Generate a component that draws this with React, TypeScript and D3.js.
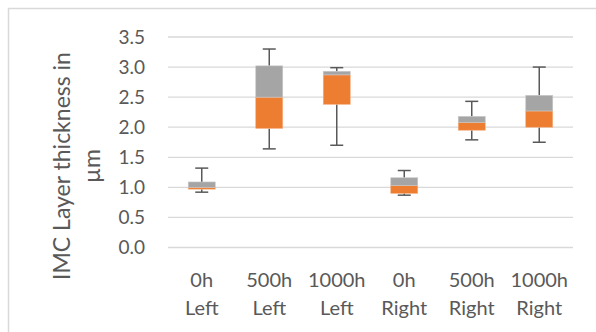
import React from 'react';
import * as d3 from 'd3';

const topLabels = ['0h', '500h', '1000h', '0h', '500h', '1000h'];
const bottomLabels = ['Left', 'Left', 'Left', 'Right', 'Right', 'Right'];
const categories = ['0h Left', '500h Left', '1000h Left', '0h Right', '500h Right', '1000h Right'];

const whiskerMin = [0.92, 1.64, 1.70, 0.87, 1.79, 1.75];
const q1 = [0.97, 1.98, 2.38, 0.90, 1.95, 2.00];
const median = [1.00, 2.50, 2.87, 1.03, 2.08, 2.27];
const q3 = [1.09, 3.02, 2.93, 1.16, 2.18, 2.53];
const whiskerMax = [1.32, 3.30, 2.99, 1.28, 2.43, 3.00];

const yTicks = [0, 0.5, 1, 1.5, 2, 2.5, 3, 3.5];

const W = 596, H = 332;
const FONT = 'Lato, "Open Sans", sans-serif';
const TEXT = '#595959';

export default function App() {
  const x = d3.scaleBand<string>().domain(categories).range([168, 573]).padding(0);
  const y = d3.scaleLinear().domain([0, 3.5]).range([247.5, 37]);
  const bw = x.bandwidth() * 0.4;
  const cap = 13;

  return (
    <svg width={W} height={H} style={{ position: 'absolute', left: 0, top: 0, background: '#fff' }}>
      <rect x={8.5} y={8.5} width={620} height={360} fill="#fff" stroke="#d9d9d9" strokeWidth={1.5} />

      {/* gridlines + tick labels */}
      {yTicks.map((t) => (
        <g key={t}>
          <line x1={168} x2={573} y1={y(t)} y2={y(t)} stroke="#d9d9d9" strokeWidth={1.3} />
          <text x={145} y={y(t)} dy="0.35em" textAnchor="end" fill={TEXT} fontFamily={FONT} fontSize={19}>
            {d3.format('.1f')(t)}
          </text>
        </g>
      ))}

      {/* y title */}
      <text transform={`translate(70,166) rotate(-90)`} textAnchor="middle" fill={TEXT} fontFamily={FONT} fontSize={23}>
        IMC Layer thickness in
      </text>
      <text transform={`translate(100,166) rotate(-90)`} textAnchor="middle" fill={TEXT} fontFamily={FONT} fontSize={23}>
        µm
      </text>

      {/* boxes */}
      {categories.map((c, i) => {
        const cx = (x(c) as number) + x.bandwidth() / 2;
        return (
          <g key={c}>
            <line x1={cx} x2={cx} y1={y(whiskerMax[i])} y2={y(q3[i])} stroke="#595959" strokeWidth={1.5} />
            <line x1={cx} x2={cx} y1={y(q1[i])} y2={y(whiskerMin[i])} stroke="#595959" strokeWidth={1.5} />
            <line x1={cx - cap / 2} x2={cx + cap / 2} y1={y(whiskerMax[i])} y2={y(whiskerMax[i])} stroke="#595959" strokeWidth={1.5} />
            <line x1={cx - cap / 2} x2={cx + cap / 2} y1={y(whiskerMin[i])} y2={y(whiskerMin[i])} stroke="#595959" strokeWidth={1.5} />
            <rect x={cx - bw / 2} width={bw} y={y(median[i])} height={y(q1[i]) - y(median[i])} fill="#ED7D31" stroke="#f4b183" strokeWidth={0.6} />
            <rect x={cx - bw / 2} width={bw} y={y(q3[i])} height={y(median[i]) - y(q3[i])} fill="#A5A5A5" stroke="#c9c9c9" strokeWidth={0.6} />
            <text x={cx} y={287} textAnchor="middle" fill={TEXT} fontFamily={FONT} fontSize={20}>{topLabels[i]}</text>
            <text x={cx} y={315} textAnchor="middle" fill={TEXT} fontFamily={FONT} fontSize={20}>{bottomLabels[i]}</text>
          </g>
        );
      })}
    </svg>
  );
}
